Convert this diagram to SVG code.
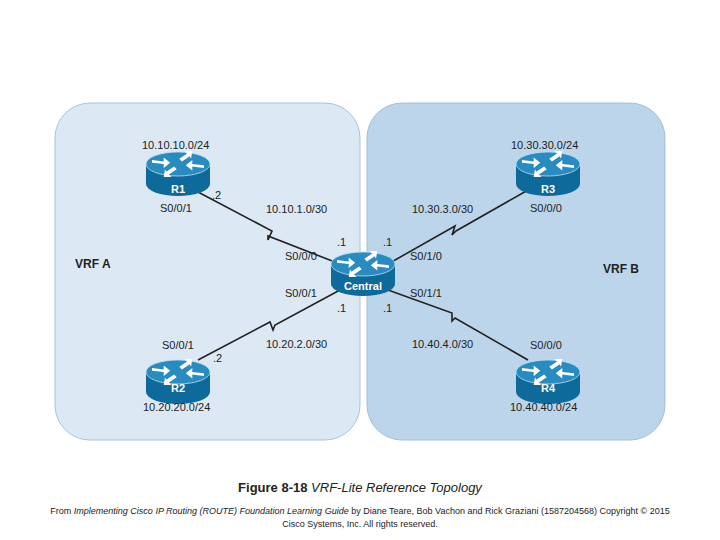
<svg xmlns="http://www.w3.org/2000/svg" width="720" height="540" viewBox="0 0 720 540">
<style>
text{font-family:"Liberation Sans",Arial,sans-serif;font-size:11px;fill:#222}
.rl{fill:#fff;font-weight:bold;font-size:11px}
.vrf{font-weight:bold;font-size:12px}
.link{fill:none;stroke:#222;stroke-width:1.6}
</style>
<defs>
<g id="rt">
<path d="M-32,-8 L-32,12 A32,12 0 0 0 32,12 L32,-8 Z" fill="#0f6a9c"/>
<ellipse cx="0" cy="-8" rx="32" ry="12" fill="#2a8bc1" stroke="#bfe0f2" stroke-width="0.8"/>
<g fill="#fff" transform="translate(0,-8) scale(1.3)">
<path d="M-20,-3 l9,1 l0,-3 l5,4 l-5,4 l0,-3 l-9,-1z"/>
<path d="M20,3 l-9,-1 l0,3 l-5,-4 l5,-4 l0,3 l9,1z"/>
<path d="M-3,2 l-6,4 l-1,-2 l-1,6 l6,0 l-2,-2 l6,-4z"/>
<path d="M3,-2 l6,-4 l1,2 l1,-6 l-6,0 l2,2 l-6,4z"/>
</g>
</g>
</defs>
<rect width="720" height="540" fill="#fff"/>
<rect x="55" y="103" width="305" height="337" rx="35" fill="#dce8f4" stroke="#a9c4dc"/>
<rect x="367" y="103" width="298" height="337" rx="35" fill="#bcd5ea" stroke="#a0bfd9"/>
<g id="connectors">
<polyline class="link" points="198,192 272,231 268,240 268,236 340,264"/>
<polyline class="link" points="198,360 270,322 273,330 275,325 340,290"/>
<polyline class="link" points="388,264 455,226 452,235 456,231 528,190"/>
<polyline class="link" points="388,290 452,313 452,321 455,318 528,360"/>
</g>
<g id="R1"><use href="#rt" x="178" y="172"/><text class="rl" x="178" y="193" text-anchor="middle">R1</text></g>
<g id="R3"><use href="#rt" x="548" y="172"/><text class="rl" x="548" y="193" text-anchor="middle">R3</text></g>
<g id="R2"><use href="#rt" x="178" y="380"/><text class="rl" x="178" y="392" text-anchor="middle">R2</text></g>
<g id="R4"><use href="#rt" x="548" y="380"/><text class="rl" x="548" y="392" text-anchor="middle">R4</text></g>
<g id="Central"><use href="#rt" x="363" y="272"/><text class="rl" x="363" y="290" text-anchor="middle">Central</text></g>
<text class="vrf" x="75" y="268">VRF A</text>
<text class="vrf" x="603" y="273">VRF B</text>
<text x="142" y="149">10.10.10.0/24</text>
<text x="511" y="149">10.30.30.0/24</text>
<text x="143" y="411">10.20.20.0/24</text>
<text x="510" y="411">10.40.40.0/24</text>
<text x="160" y="212">S0/0/1</text>
<text x="212" y="199">.2</text>
<text x="266" y="213">10.10.1.0/30</text>
<text x="412" y="213">10.30.3.0/30</text>
<text x="530" y="212">S0/0/0</text>
<text x="337" y="246">.1</text>
<text x="383" y="246">.1</text>
<text x="285" y="260">S0/0/0</text>
<text x="410" y="260">S0/1/0</text>
<text x="285" y="297">S0/0/1</text>
<text x="410" y="297">S0/1/1</text>
<text x="337" y="312">.1</text>
<text x="383" y="312">.1</text>
<text x="162" y="349">S0/0/1</text>
<text x="213" y="362">.2</text>
<text x="266" y="348">10.20.2.0/30</text>
<text x="412" y="348">10.40.4.0/30</text>
<text x="530" y="349">S0/0/0</text>
<text x="360" y="492" text-anchor="middle" style="font-size:13px"><tspan font-weight="bold">Figure 8-18</tspan> <tspan font-style="italic">VRF-Lite Reference Topology</tspan></text>
<text x="360" y="514" text-anchor="middle" style="font-size:9px">From <tspan font-style="italic">Implementing Cisco IP Routing (ROUTE) Foundation Learning Guide</tspan> by Diane Teare, Bob Vachon and Rick Graziani (1587204568) Copyright © 2015</text>
<text x="360" y="527" text-anchor="middle" style="font-size:9px">Cisco Systems, Inc. All rights reserved.</text>
</svg>
